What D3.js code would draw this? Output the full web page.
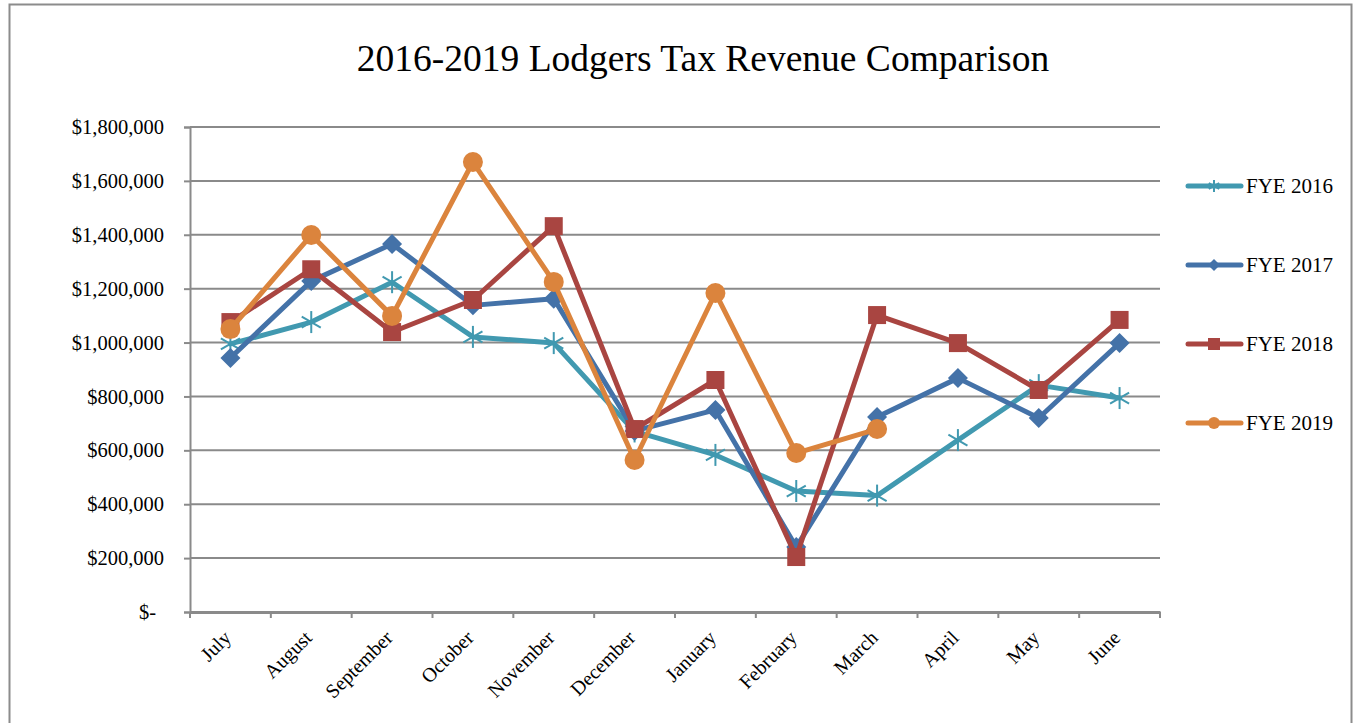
<!DOCTYPE html>
<html>
<head>
<meta charset="utf-8">
<script src="https://cdn.jsdelivr.net/npm/d3@7"></script>
<style>
  html, body { margin: 0; padding: 0; background: #fff; }
  svg { display: block; }
  text { font-family: "Liberation Serif", "Times New Roman", serif; fill: #000; }
</style>
</head>
<body>
<svg id="chart" width="1355" height="723"></svg>
<script>
const months = ["July","August","September","October","November","December","January","February","March","April","May","June"];
const yTicks = [0, 200000, 400000, 600000, 800000, 1000000, 1200000, 1400000, 1600000, 1800000];
const seriesNames = ["FYE 2016","FYE 2017","FYE 2018","FYE 2019"];
const fye2016 = [995000, 1076000, 1224000, 1021000, 998000, 670000, 583000, 449000, 432000, 638000, 842000, 794000];
const fye2017 = [943000, 1228000, 1366000, 1138000, 1163000, 672000, 750000, 241000, 724000, 868000, 720000, 998000];
const fye2018 = [1076000, 1272000, 1039000, 1158000, 1432000, 679000, 861000, 204000, 1102000, 998000, 824000, 1084000];
const fye2019 = [1050000, 1399000, 1099000, 1670000, 1225000, 564000, 1184000, 590000, 679000, null, null, null];
const colors = ["#4199B0", "#4472A8", "#A94541", "#DB843D"];
const markers = ["asterisk", "diamond", "square", "circle"];

const svg = d3.select("#chart");
const m = {left: 190, right: 1160, top: 127, bottom: 612};

// frame
svg.append("rect").attr("x", 9.5).attr("y", 4.5).attr("width", 1342).attr("height", 740)
  .attr("fill", "none").attr("stroke", "#8c8c8c").attr("stroke-width", 2);

// title
svg.append("text").attr("x", 703).attr("y", 71).attr("text-anchor", "middle")
  .style("font-size", "37.5px").text("2016-2019 Lodgers Tax Revenue Comparison");

const x = d3.scaleBand().domain(months).range([m.left, m.right]).padding(0);
const y = d3.scaleLinear().domain([0, 1800000]).range([m.bottom, m.top]);

// gridlines
svg.append("g").selectAll("line").data(yTicks.filter(d => d > 0)).join("line")
  .attr("x1", m.left).attr("x2", m.right)
  .attr("y1", d => y(d)).attr("y2", d => y(d))
  .attr("stroke", "#8a8a8a").attr("stroke-width", 2);

// y axis
const fmt = d => d === 0 ? "$-" : "$" + d3.format(",")(d);
const yAxis = svg.append("g").attr("transform", `translate(${m.left},0)`)
  .call(d3.axisLeft(y).tickValues(yTicks).tickSize(6).tickPadding(20).tickFormat(fmt));
yAxis.select(".domain").attr("stroke", "#8a8a8a").attr("stroke-width", 2);
yAxis.selectAll(".tick line").attr("stroke", "#8a8a8a").attr("stroke-width", 2);
yAxis.selectAll(".tick text").style("font-size", "20.5px").style("font-family", "Liberation Serif");
yAxis.selectAll(".tick text").filter(d => d === 0).attr("x", -34);

// x axis
const xAxis = svg.append("g").attr("transform", `translate(0,${m.bottom})`)
  .call(d3.axisBottom(x).tickSize(0).tickFormat(""));
xAxis.select(".domain").attr("stroke", "#8a8a8a").attr("stroke-width", 3);
const edges = months.map(d => x(d)).concat([m.right]);
svg.append("g").selectAll("line").data(edges).join("line")
  .attr("x1", d => d).attr("x2", d => d).attr("y1", m.bottom).attr("y2", m.bottom + 6)
  .attr("stroke", "#8a8a8a").attr("stroke-width", 2);
svg.append("g").selectAll("text").data(months).join("text")
  .attr("transform", d => `translate(${x(d) + x.bandwidth()/2 - 3},${m.bottom + 22}) rotate(-45)`)
  .attr("text-anchor", "end").attr("dy", "0.35em")
  .style("font-size", "20px").text(d => d);

// lines
const allSeries = [fye2016, fye2017, fye2018, fye2019];
const cx = d => x(d) + x.bandwidth()/2;
const line = d3.line().defined(d => d.v !== null).x(d => cx(d.m)).y(d => y(d.v));

function drawMarker(g, type, color, px, py, s) {
  if (type === "asterisk") {
    const gg = g.append("g").attr("transform", `translate(${px},${py})`);
    [0, 60, 120].forEach(a => {
      gg.append("line").attr("x1", 0).attr("y1", -s).attr("x2", 0).attr("y2", s)
        .attr("transform", `rotate(${a})`).attr("stroke", color).attr("stroke-width", 2);
    });
  } else if (type === "diamond") {
    g.append("path").attr("d", `M${px},${py - s}L${px + s},${py}L${px},${py + s}L${px - s},${py}Z`).attr("fill", color);
  } else if (type === "square") {
    g.append("rect").attr("x", px - s).attr("y", py - s).attr("width", 2*s).attr("height", 2*s).attr("fill", color);
  } else {
    g.append("circle").attr("cx", px).attr("cy", py).attr("r", s).attr("fill", color);
  }
}
const msize = [11, 10, 9, 10];
allSeries.forEach((vals, i) => {
  const data = months.map((mm, j) => ({m: mm, v: vals[j]}));
  const g = svg.append("g");
  g.append("path").datum(data).attr("d", line).attr("fill", "none")
    .attr("stroke", colors[i]).attr("stroke-width", 5).attr("stroke-linejoin", "round").attr("stroke-linecap", "round");
  data.filter(d => d.v !== null).forEach(d => drawMarker(g, markers[i], colors[i], cx(d.m), y(d.v), msize[i]));
});

// legend
const legY = [186, 265, 344, 423];
seriesNames.forEach((n, i) => {
  const g = svg.append("g");
  g.append("line").attr("x1", 1188).attr("x2", 1241).attr("y1", legY[i]).attr("y2", legY[i])
    .attr("stroke", colors[i]).attr("stroke-width", 5).attr("stroke-linecap", "round");
  drawMarker(g, markers[i], colors[i], 1214, legY[i], 6);
  g.append("text").attr("x", 1246).attr("y", legY[i]).attr("dy", "0.35em")
    .style("font-size", "21px").text(n);
});
</script>
</body>
</html>
